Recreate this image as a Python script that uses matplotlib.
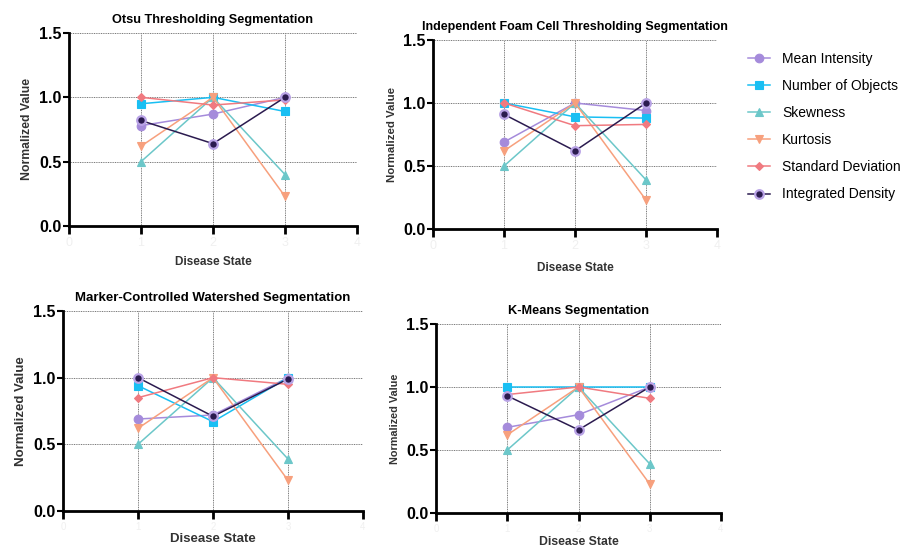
import matplotlib.pyplot as plt

plt.rcParams['font.family'] = ['Liberation Sans', 'DejaVu Sans']

# Data
states = [1, 2, 3]
titles = [
    "Otsu Thresholding Segmentation",
    "Independent Foam Cell Thresholding Segmentation",
    "Marker-Controlled Watershed Segmentation",
    "K-Means Segmentation",
]
series_names = ["Mean Intensity", "Number of Objects", "Skewness",
                "Kurtosis", "Standard Deviation", "Integrated Density"]

otsu = [
    [0.78, 0.87, 1.00],
    [0.95, 1.00, 0.89],
    [0.50, 1.00, 0.40],
    [0.62, 1.00, 0.23],
    [1.00, 0.94, 0.98],
    [0.82, 0.64, 1.00],
]
foam = [
    [0.69, 1.00, 0.94],
    [1.00, 0.89, 0.88],
    [0.50, 1.00, 0.39],
    [0.62, 1.00, 0.23],
    [1.00, 0.82, 0.83],
    [0.91, 0.62, 1.00],
]
watershed = [
    [0.69, 0.72, 1.00],
    [0.94, 0.67, 1.00],
    [0.50, 1.00, 0.39],
    [0.62, 1.00, 0.23],
    [0.85, 1.00, 0.95],
    [1.00, 0.71, 0.99],
]
kmeans = [
    [0.68, 0.78, 1.00],
    [1.00, 1.00, 1.00],
    [0.50, 1.00, 0.39],
    [0.62, 1.00, 0.23],
    [0.94, 1.00, 0.91],
    [0.93, 0.66, 1.00],
]
panels = [otsu, foam, watershed, kmeans]

# Styles
colors = ["#a58bdb", "#19bff3", "#6cc7c9", "#f7a07d", "#f07a80", "#2b1b4f"]
markers = ["o", "s", "^", "v", "D", "o"]
msizes = [6.2, 6.2, 5.8, 5.8, 4, 6.2]
edges = ["#a58bdb", "#19bff3", "#6cc7c9", "#f7a07d", "#f07a80", "#b9a3e6"]

W, H = 911, 547
fig = plt.figure(figsize=(W / 100, H / 100), dpi=100)

# axes rectangles in pixels: left, top, right, bottom
rects = [(69, 33, 357, 226), (433, 40, 717, 229),
         (63, 311, 363, 511), (436, 324, 721, 513)]
title_fs = [9.2, 9.0, 9.5, 9.2]
ylab_fs = [8.8, 8.2, 9.5, 7.8]
xlab_fs = [8.5, 8.5, 9.5, 8.8]
xlab_y = [-0.155, -0.175, -0.112, -0.12]
xtick_fs = [9, 9, 7, 7]

for k, (data, title, (l, t, r, b)) in enumerate(zip(panels, titles, rects)):
    ax = fig.add_axes([l / W, (H - b) / H, (r - l) / W, (b - t) / H])
    for i, name in enumerate(series_names):
        ax.plot(states, data[i], color=colors[i], lw=1.1, marker=markers[i],
                ms=msizes[i], mfc=colors[i], mec=edges[i],
                mew=1.6 if i == 5 else 0.8, label=name, clip_on=False)
    ax.set_xlim(0, 4)
    ax.set_ylim(0, 1.5)
    ax.set_xticks([0, 1, 2, 3, 4])
    ax.set_yticks([0, 0.5, 1.0, 1.5])
    ax.set_yticklabels(["0.0", "0.5", "1.0", "1.5"])
    ax.grid(True, ls=(0, (1, 0.8)), color="#777777", lw=0.7)
    ax.set_axisbelow(True)
    for s in ["top", "right"]:
        ax.spines[s].set_visible(False)
    for s in ["left", "bottom"]:
        ax.spines[s].set_linewidth(2)
    ax.tick_params(axis="x", length=6, width=2, labelsize=xtick_fs[k],
                   labelcolor="#f0f0f0", pad=2)
    ax.tick_params(axis="y", length=4, width=1.5, labelsize=11.5, pad=1.5)
    for lab in ax.get_yticklabels():
        lab.set_fontweight("bold")
    ax.set_title(title, fontsize=title_fs[k], fontweight="bold", pad=7)
    ax.set_xlabel("Disease State", fontsize=xlab_fs[k], fontweight="bold",
                  color="#333333")
    ax.xaxis.set_label_coords(0.5, xlab_y[k])
    ax.set_ylabel("Normalized Value", fontsize=ylab_fs[k], fontweight="bold",
                  color="#333333", labelpad=4)

handles, labels = ax.get_legend_handles_labels()
fig.legend(handles, labels, loc="upper left", bbox_to_anchor=(735 / W, 1 - 39 / H),
           frameon=False, fontsize=10, handlelength=1.6, labelspacing=0.95,
           handletextpad=0.9)

fig.savefig("out.png", dpi=100)
